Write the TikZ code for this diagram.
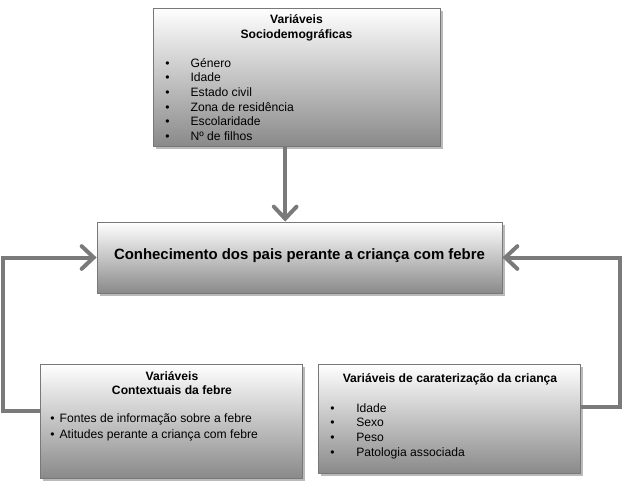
\documentclass[tikz,border=0pt]{standalone}
\usepackage{fontspec}
\setmainfont{Liberation Sans}
\definecolor{flowgray}{RGB}{122, 122, 122}
\definecolor{rimgray}{RGB}{120, 120, 120}
\usetikzlibrary{
  arrows.meta,
  calc,
  positioning,
  shadows,
}
\tikzset{
  >={Straight Barb[length=9pt, width=17pt, line cap=round]},
}
\newcommand{\itm}[2]{\makebox[#1][l]{\textbullet}#2}

\begin{document}
\begin{tikzpicture}[x=0.75pt, y=-0.75pt,
    box/.style={draw=rimgray, line width=0.6pt, rectangle, inner sep=0pt,
                top color=white, bottom color=black!46,
                drop shadow={shadow xshift=2pt, shadow yshift=-2pt,
                             fill=black!45, opacity=0.6}},
    txt/.style={font=\fontsize{9.1}{11}\selectfont, inner sep=0pt},
    flow/.style={->, draw=flowgray, line width=3pt}]
  \useasboundingbox (0,0) rectangle (624,489);
  % boxes
  \node [box, minimum width=215.25pt, minimum height=103.5pt] (socio) at (296.5,77) {};
  \node [box, minimum width=303.75pt, minimum height=53.25pt] (know) at (299.5,257.5) {};
  \node [box, minimum width=196.5pt, minimum height=85.5pt] (context) at (171,421) {};
  \node [box, minimum width=196.5pt, minimum height=81.75pt] (child) at (449,418.5) {};
  % texts
  \node [txt, font=\fontsize{9.1}{11}\selectfont\bfseries, align=center] (sociotitle)
        at (296.5,28) {Variáveis\\Sociodemográficas};
  \node [txt, align=left, anchor=north west] (sociolist) at (165,58)
        {\itm{19pt}{Género}\\\itm{19pt}{Idade}\\\itm{19pt}{Estado civil}\\
         \itm{19pt}{Zona de residência}\\\itm{19pt}{Escolaridade}\\\itm{19pt}{Nº de filhos}};
  \node [font=\fontsize{11.2}{13}\selectfont\bfseries, inner sep=0pt] (knowtext)
        at (299.5,255.5) {Conhecimento dos pais perante a criança com febre};
  \node [txt, font=\fontsize{9.1}{11}\selectfont\bfseries, align=center] (contexttitle)
        at (172,383) {Variáveis\\Contextuais da febre};
  \node [txt, align=left, anchor=north west] (contextlist) at (50,413)
        {\itm{7pt}{Fontes de informação sobre a febre}\\[1pt]
         \itm{7pt}{Atitudes perante a criança com febre}};
  \node [txt, font=\fontsize{9.1}{11}\selectfont\bfseries] (childtitle)
        at (450,379) {Variáveis de caraterização da criança};
  \node [txt, align=left, anchor=north west] (childlist) at (330,403)
        {\itm{19.5pt}{Idade}\\\itm{19.5pt}{Sexo}\\\itm{19.5pt}{Peso}\\
         \itm{19.5pt}{Patologia associada}};
  % connectors
  \draw [flow] ([xshift=-8.5pt]socio.south) -- ([xshift=-8.5pt]socio.south |- know.north);
  \draw [flow] ([yshift=7.5pt]context.west) -- ++(-37,0) |- (know.west);
  \draw [flow] ([yshift=8.5pt]child.east) -- ++(40,0) |- (know.east);
\end{tikzpicture}
\end{document}
